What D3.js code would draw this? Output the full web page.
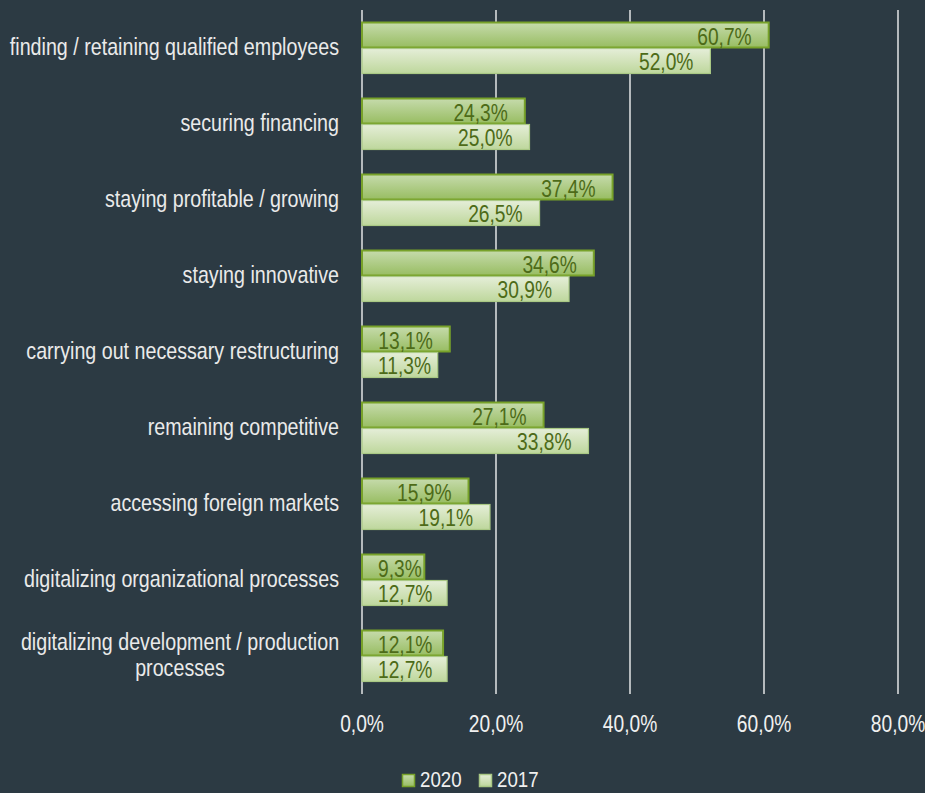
<!DOCTYPE html>
<html>
<head>
<meta charset="utf-8">
<script src="https://cdn.jsdelivr.net/npm/d3@7"></script>
<style>
  body { margin: 0; background: #2c3a43; }
  svg { display: block; font-family: "Liberation Sans", Arial, sans-serif; }
</style>
</head>
<body>
<div id="chart"></div>
<script>
const categories = [
  "finding / retaining qualified employees",
  "securing financing",
  "staying profitable / growing",
  "staying innovative",
  "carrying out necessary restructuring",
  "remaining competitive",
  "accessing foreign markets",
  "digitalizing organizational processes",
  "digitalizing development / production processes"
];
const series = ["2020", "2017"];
const values2020 = [60.7, 24.3, 37.4, 34.6, 13.1, 27.1, 15.9, 9.3, 12.1];
const values2017 = [52.0, 25.0, 26.5, 30.9, 11.3, 33.8, 19.1, 12.7, 12.7];
const xTicks = [0, 20, 40, 60, 80];

const width = 925, height = 793;
const margin = { top: 10, right: 27, bottom: 99, left: 362 };
const narrow = 0.8; // fake a condensed face by squeezing Liberation Sans

const svg = d3.select("#chart").append("svg")
  .attr("width", width)
  .attr("height", height);

svg.append("rect").attr("width", width).attr("height", height).attr("fill", "#2c3a43");

const defs = svg.append("defs");
const grads = {
  "2020": { top: "#c6dbac", bottom: "#98bd62", stroke: "#78a22a", sw: 2 },
  "2017": { top: "#e5eed8", bottom: "#bed79c", stroke: "#a9c884", sw: 1.2 }
};
Object.entries(grads).forEach(([k, g]) => {
  const lg = defs.append("linearGradient").attr("id", "g" + k)
    .attr("x1", 0).attr("y1", 0).attr("x2", 0).attr("y2", 1);
  lg.append("stop").attr("offset", "0%").attr("stop-color", g.top);
  lg.append("stop").attr("offset", "100%").attr("stop-color", g.bottom);
});

const x = d3.scaleLinear().domain([0, 80]).range([margin.left, width - margin.right]);
const y = d3.scaleBand().domain(categories).range([margin.top, height - margin.bottom])
  .paddingInner(0.316).paddingOuter(0.158);
const ySub = d3.scaleBand().domain(series).range([0, y.bandwidth()]);

const fmt = v => v.toFixed(1).replace(".", ",") + "%";

// squeezed text helper
function ntext(sel, tx, ty, str, anchor, fill, size, scale) {
  const g = sel.append("g").attr("transform", `translate(${tx},${ty}) scale(${scale || narrow},1)`);
  return g.append("text")
    .attr("text-anchor", anchor)
    .attr("fill", fill)
    .style("font-size", (size || 24) + "px")
    .text(str);
}

// gridlines
svg.append("g")
  .selectAll("line")
  .data(xTicks)
  .join("line")
  .attr("x1", d => x(d)).attr("x2", d => x(d))
  .attr("y1", margin.top).attr("y2", height - margin.bottom)
  .attr("stroke", "#ffffff").attr("stroke-width", 1.3);

// tick labels
const tickG = svg.append("g");
xTicks.forEach(t => ntext(tickG, x(t), 732, fmt(t), "middle", "#f0f0f0"));

// category labels
const labelWrap = {
  "digitalizing development / production processes": ["digitalizing development / production", "processes"]
};
const catG = svg.append("g");
categories.forEach(c => {
  const cy = y(c) + y.bandwidth() / 2;
  const lines = labelWrap[c];
  if (lines) {
    lines.forEach((ln, i) => ntext(catG, 180, cy + 7 + (i - 0.5) * 26, ln, "middle", "#eaeaea", 24, 0.82));
  } else {
    ntext(catG, 339, cy + 7, c, "end", "#eaeaea", 24, 0.82);
  }
});

// bars
const rows = categories.map((c, i) => ({ c, v: { "2020": values2020[i], "2017": values2017[i] } }));
const groups = svg.append("g").selectAll("g")
  .data(rows)
  .join("g")
  .attr("transform", d => `translate(0,${y(d.c)})`);

groups.selectAll("rect")
  .data(d => series.map(s => ({ s, v: d.v[s] })))
  .join("rect")
  .attr("x", x(0))
  .attr("y", d => ySub(d.s) + 0.5)
  .attr("width", d => x(d.v) - x(0))
  .attr("height", ySub.bandwidth() - 1)
  .attr("fill", d => `url(#g${d.s})`)
  .attr("stroke", d => grads[d.s].stroke)
  .attr("stroke-width", d => grads[d.s].sw);

// value labels: inside end, but kept clear of the axis for short bars
groups.each(function(d) {
  const grp = d3.select(this);
  series.forEach(s => {
    const v = d.v[s];
    const t = ntext(grp, 0, ySub(s) + ySub.bandwidth() - 3.5, fmt(v), "end", "#4d6b18");
    const w = t.node().getComputedTextLength() * narrow;
    const right = Math.max(x(v) - 17, x(0) + 16 + w);
    d3.select(t.node().parentNode)
      .attr("transform", `translate(${right},${ySub(s) + ySub.bandwidth() - 3.5}) scale(${narrow},1)`);
  });
});

// legend
const legend = svg.append("g").attr("transform", "translate(402,774)");
series.forEach((s, i) => {
  const lg = legend.append("g").attr("transform", `translate(${i * 77},0)`);
  lg.append("rect").attr("x", 0.5).attr("y", 0.5).attr("width", 12).attr("height", 12)
    .attr("fill", `url(#g${s})`).attr("stroke", grads[s].stroke).attr("stroke-width", 1.5);
  ntext(lg, 18, 12.5, s, "start", "#f0f0f0", 22, 0.85);
});
</script>
</body>
</html>
